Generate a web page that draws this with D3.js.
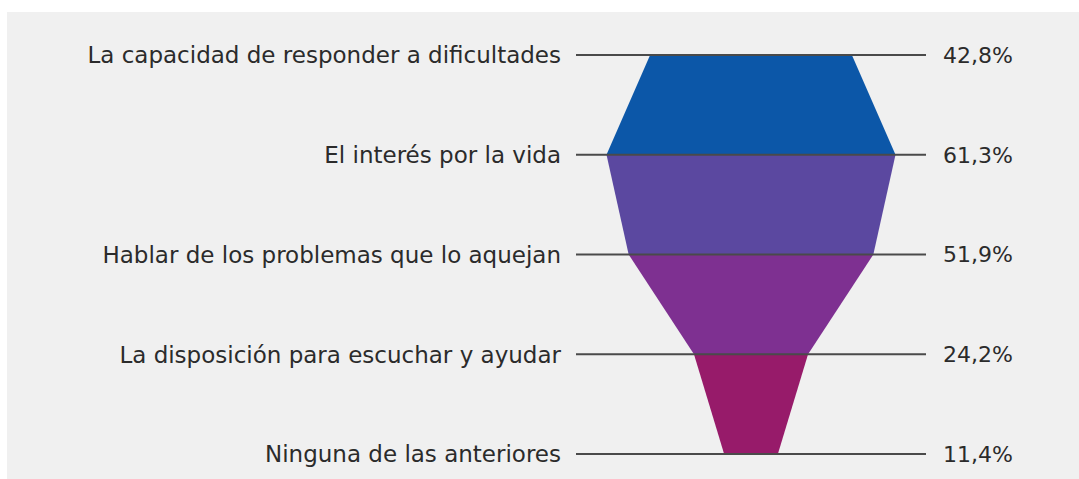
<!DOCTYPE html>
<html><head><meta charset="utf-8">
<script src="https://cdn.jsdelivr.net/npm/d3@7"></script>
<style>html,body{margin:0;padding:0;background:#fff;}svg{display:block;}</style>
</head><body>
<svg id="c" width="1079" height="479"></svg>
<script>
const categories = [
  "La capacidad de responder a dificultades",
  "El interés por la vida",
  "Hablar de los problemas que lo aquejan",
  "La disposición para escuchar y ayudar",
  "Ninguna de las anteriores"
];
const values = [42.8, 61.3, 51.9, 24.2, 11.4];
const valueLabels = ["42,8%", "61,3%", "51,9%", "24,2%", "11,4%"];
const segmentColors = ["#0c57a8", "#5b48a0", "#7e3091", "#971b6a"];

const svg = d3.select("#c");
svg.append("rect").attr("x", 7).attr("y", 12).attr("width", 1072).attr("height", 467).attr("fill", "#f0f0f0");

const y = d3.scalePoint().domain(categories).range([55, 454]);
const w = d3.scaleLinear().domain([0, 61.3]).range([0, 289]);
const cx = 751;

const data = categories.map((c, i) => ({c, v: values[i], label: valueLabels[i]}));

const segs = d3.range(data.length - 1).map(i => ({a: data[i], b: data[i + 1], color: segmentColors[i]}));
svg.append("g").selectAll("path").data(segs).join("path")
  .attr("d", s => {
    const y0 = y(s.a.c), y1 = y(s.b.c);
    const h0 = w(s.a.v) / 2, h1 = w(s.b.v) / 2;
    return `M${cx - h0},${y0}L${cx + h0},${y0}L${cx + h1},${y1}L${cx - h1},${y1}Z`;
  })
  .attr("fill", s => s.color);

svg.append("g").selectAll("line").data(data).join("line")
  .attr("x1", 576).attr("x2", 926)
  .attr("y1", d => y(d.c)).attr("y2", d => y(d.c))
  .attr("stroke", "#4a4a4a").attr("stroke-width", 2);

const font = "'DejaVu Sans', sans-serif";
svg.append("g").selectAll("text").data(data).join("text")
  .attr("x", 561).attr("y", d => y(d.c)).attr("dy", "0.36em")
  .attr("text-anchor", "end")
  .attr("font-family", font).attr("font-size", 23).attr("fill", "#2b2b2b")
  .text(d => d.c);

svg.append("g").selectAll("text").data(data).join("text")
  .attr("x", 943).attr("y", d => y(d.c)).attr("dy", "0.36em")
  .attr("text-anchor", "start")
  .attr("font-family", font).attr("font-size", 22).attr("fill", "#2b2b2b")
  .text(d => d.label);
</script>
</body></html>
